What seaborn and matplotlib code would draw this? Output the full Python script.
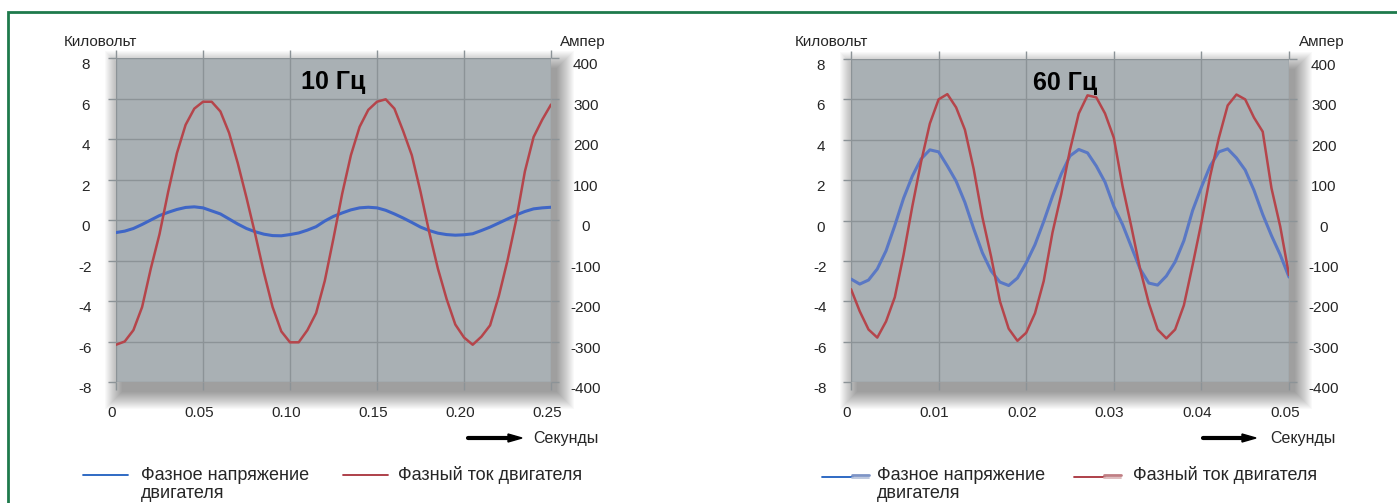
import numpy as np
import pandas as pd
import matplotlib
matplotlib.use("Agg")
import matplotlib.pyplot as plt
import seaborn as sns
from matplotlib.patches import Rectangle
from matplotlib.lines import Line2D
from matplotlib.transforms import ScaledTranslation

sns.set_style("white")
plt.rcParams['font.family'] = ['Liberation Sans', 'DejaVu Sans']

# ── data ──────────────────────────────────────────────────
# 10 Hz panel, sampled every 5 ms
t_10 = np.linspace(0, 0.25, 51)
volt_10 = [-0.62, -0.55, -0.42, -0.22, 0.00, 0.22, 0.38, 0.52, 0.62, 0.65,
           0.60, 0.45, 0.30, 0.05, -0.20, -0.42, -0.58, -0.70, -0.77, -0.78,
           -0.72, -0.64, -0.50, -0.33, -0.05, 0.18, 0.35, 0.50, 0.60, 0.63,
           0.60, 0.48, 0.30, 0.10, -0.12, -0.35, -0.52, -0.65, -0.72, -0.75,
           -0.73, -0.68, -0.52, -0.35, -0.15, 0.05, 0.25, 0.42, 0.55, 0.60,
           0.63]
amp_10 = [-308, -300, -272, -215, -120, -35, 70, 165, 235, 275,
          292, 292, 268, 215, 140, 55, -35, -130, -215, -275,
          -302, -302, -272, -230, -150, -45, 65, 160, 230, 272,
          292, 298, 275, 220, 160, 70, -30, -120, -195, -258,
          -290, -308, -288, -260, -188, -100, 0, 120, 205, 248,
          285]

# 60 Hz panel, sampled every 1 ms
t_60 = np.linspace(0, 0.05, 51)
volt_60 = [-2.90, -3.15, -2.95, -2.40, -1.50, -0.25, 1.10, 2.20, 3.05, 3.50,
           3.40, 2.70, 1.95, 0.90, -0.40, -1.60, -2.50, -3.05, -3.22, -2.85,
           -2.10, -1.20, -0.05, 1.20, 2.30, 3.20, 3.52, 3.35, 2.70, 1.90,
           0.70, -0.20, -1.30, -2.40, -3.10, -3.20, -2.75, -2.05, -1.00, 0.50,
           1.65, 2.70, 3.40, 3.55, 3.10, 2.50, 1.50, 0.30, -0.75, -1.70,
           -2.80]
amp_60 = [-170, -225, -270, -290, -250, -190, -85, 35, 145, 240,
          300, 313, 280, 225, 128, 8, -90, -200, -268, -298,
          -278, -230, -150, -30, 65, 175, 265, 310, 305, 265,
          205, 85, -15, -120, -205, -270, -292, -270, -210, -110,
          -5, 110, 205, 285, 312, 300, 255, 220, 80, -15,
          -135]

kv_ticks = [-8, -6, -4, -2, 0, 2, 4, 6, 8]
amp_ticks = [-400, -300, -200, -100, 0, 100, 200, 300, 400]
x_ticks_10 = [0, 0.05, 0.10, 0.15, 0.20, 0.25]
x_labels_10 = ['0', '0.05', '0.10', '0.15', '0.20', '0.25']
x_ticks_60 = [0, 0.01, 0.02, 0.03, 0.04, 0.05]
x_labels_60 = ['0', '0.01', '0.02', '0.03', '0.04', '0.05']

W, H = 1397, 503
BG = '#a9b0b4'
GRID = '#8c9397'
RED = '#b5454b'
BLUE_10 = '#3f66c6'
BLUE_60 = '#5a78c4'

fig = plt.figure(figsize=(W / 100, H / 100), dpi=100)
fig.patch.set_facecolor('white')


def fx(px):
    return px / W


def fy(py):
    return 1 - py / H


def shadow(x0, y0, x1, y1):
    # soft drop shadow: stacked faint rectangles, shifted right/down
    for r in range(0, 18):
        a, b = x0 + 6 - r, x1 + 6 + r
        c, d = y0 + 10 - r, y1 + 10 + r
        fig.patches.append(Rectangle((fx(a), fy(d)), fx(b - a), (d - c) / H,
                                     transform=fig.transFigure, facecolor='black',
                                     edgecolor='none', alpha=0.022, zorder=0))


def panel(x0, y0, x1, y1, t, volt, amp, blue, xt, xl, title, title_x):
    shadow(x0, y0, x1, y1)
    ax = fig.add_axes([fx(x0), fy(y1), fx(x1 - x0), (y1 - y0) / H])
    ax.set_facecolor(BG)
    ax.set_zorder(2)
    df_v = pd.DataFrame({'t': t, 'kv': volt})
    sns.lineplot(data=df_v, x='t', y='kv', ax=ax, color=blue, lw=2.2, legend=False)
    ax.set_xlim(xt[0], xt[-1])
    ax.set_ylim(-8, 8)
    ax.set_xticks(xt)
    ax.set_xticklabels(xl)
    ax.set_yticks(kv_ticks)
    ax.set_yticklabels([str(v) for v in kv_ticks])
    ax.grid(True, color=GRID, lw=1)
    ax.set_axisbelow(True)
    ax.set_xlabel('')
    ax.set_ylabel('')
    for s in ax.spines.values():
        s.set_visible(False)
    ax.tick_params(axis='x', top=True, bottom=True, length=6, width=1, color=GRID,
                   pad=11, labelsize=11)
    ax.tick_params(axis='y', left=True, length=6, width=1, color=GRID, pad=16,
                   labelsize=11)
    for lab in ax.get_yticklabels():
        lab.set_horizontalalignment('center')
        lab.set_transform(lab.get_transform() + ScaledTranslation(0, -4 / 72, fig.dpi_scale_trans))
    for lab in ax.get_xticklabels():
        lab.set_transform(lab.get_transform() + ScaledTranslation(-3 / 72, 0, fig.dpi_scale_trans))

    ax2 = ax.twinx()
    df_a = pd.DataFrame({'t': t, 'amp': amp})
    sns.lineplot(data=df_a, x='t', y='amp', ax=ax2, color=RED, lw=1.8, legend=False)
    ax2.set_ylim(-400, 400)
    ax2.set_yticks(amp_ticks)
    ax2.set_yticklabels([str(v) for v in amp_ticks])
    ax2.set_ylabel('')
    for s in ax2.spines.values():
        s.set_visible(False)
    ax2.tick_params(axis='y', right=True, length=6, width=1, color=GRID, pad=19,
                    labelsize=11)
    for lab in ax2.get_yticklabels():
        lab.set_horizontalalignment('center')
        lab.set_transform(lab.get_transform() + ScaledTranslation(0, -4 / 72, fig.dpi_scale_trans))

    ax2.text(title_x, 0.926, title, transform=ax.transAxes, ha='center', va='center',
             fontsize=18, fontweight='bold', color='black')
    return ax


panel(116, 58, 551, 382, t_10, volt_10, amp_10, BLUE_10, x_ticks_10, x_labels_10, '10 Гц', 0.5)
panel(851, 59, 1289, 382, t_60, volt_60, amp_60, BLUE_60, x_ticks_60, x_labels_60, '60 Гц', 0.49)

# axis captions
for x, s in [(100, 'Киловольт'), (583, 'Ампер'), (831, 'Киловольт'), (1322, 'Ампер')]:
    fig.text(fx(x), fy(42), s, ha='center', va='center', fontsize=11)

# time arrows
for xa, xb, xt in [(468, 522, 533), (1203, 1256, 1270)]:
    fig.add_artist(Line2D([fx(xa), fx(xb - 12)], [fy(438), fy(438)], color='black', lw=3))
    fig.patches.append(plt.Polygon([[fx(xb - 14), fy(434)], [fx(xb), fy(438)], [fx(xb - 14), fy(442)]],
                                   closed=True, transform=fig.transFigure, color='black'))
    fig.text(fx(xt), fy(438), 'Секунды', ha='left', va='center', fontsize=11.5)

# legends
LEG = 13
fig.add_artist(Line2D([fx(83), fx(128)], [fy(475), fy(475)], color='#1f5fbf', lw=1.3))
fig.text(fx(141), fy(475), 'Фазное напряжение', ha='left', va='center', fontsize=LEG)
fig.text(fx(141), fy(494), 'двигателя', ha='left', va='center', fontsize=LEG)
fig.add_artist(Line2D([fx(343), fx(388)], [fy(475), fy(475)], color='#a8323c', lw=1.3))
fig.text(fx(398), fy(475), 'Фазный ток двигателя', ha='left', va='center', fontsize=LEG)

fig.add_artist(Line2D([fx(822), fx(853)], [fy(477), fy(477)], color='#1f5fbf', lw=1.3))
fig.add_artist(Line2D([fx(852), fx(869)], [fy(475), fy(475)], color='#7f95c6', lw=2))
fig.add_artist(Line2D([fx(852), fx(869)], [fy(478), fy(478)], color='#b8c4dc', lw=1.3))
fig.text(fx(877), fy(475), 'Фазное напряжение', ha='left', va='center', fontsize=LEG)
fig.text(fx(877), fy(494), 'двигателя', ha='left', va='center', fontsize=LEG)
fig.add_artist(Line2D([fx(1074), fx(1105)], [fy(477), fy(477)], color='#a8323c', lw=1.3))
fig.add_artist(Line2D([fx(1104), fx(1121)], [fy(475), fy(475)], color='#c07f84', lw=2))
fig.add_artist(Line2D([fx(1104), fx(1121)], [fy(478), fy(478)], color='#dcb8ba', lw=1.3))
fig.text(fx(1133), fy(475), 'Фазный ток двигателя', ha='left', va='center', fontsize=LEG)

# green frame
fig.patches.append(Rectangle((fx(8), -0.1), 1.2, fy(12) + 0.1, transform=fig.transFigure,
                             fill=False, edgecolor='#1e7a4c', lw=2, zorder=5))

fig.savefig('out.png', dpi=100)
